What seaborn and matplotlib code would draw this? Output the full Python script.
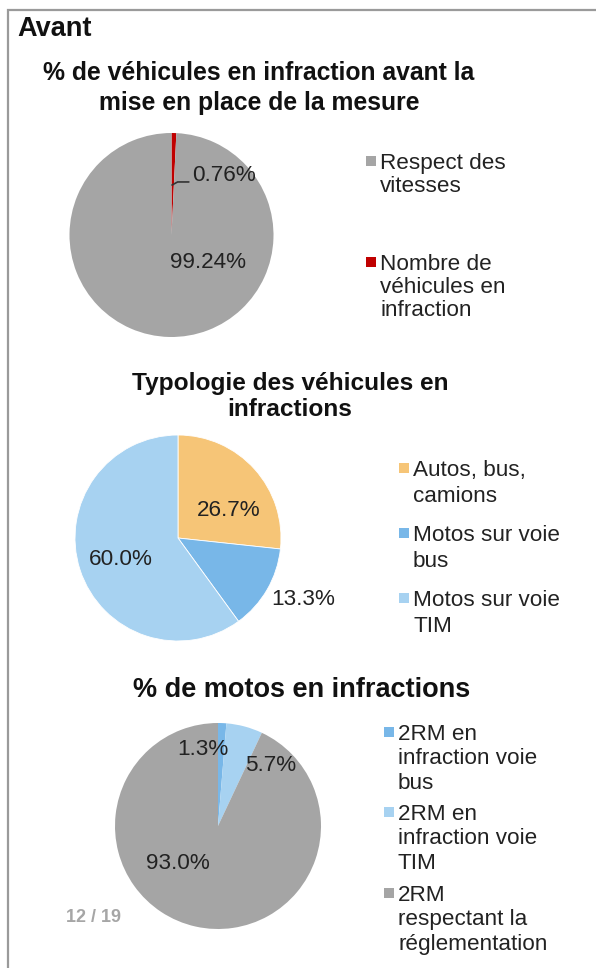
import matplotlib
matplotlib.use("Agg")
import matplotlib.pyplot as plt
from matplotlib.patches import Rectangle
from matplotlib.lines import Line2D
import seaborn as sns

sns.set_theme(style="white")
plt.rcParams['font.family'] = ['Liberation Sans', 'DejaVu Sans']

# ---------------- data ----------------
main_title = "Avant"
page_label = "12 / 19"

title1 = "% de véhicules en infraction avant la\nmise en place de la mesure"
labels1 = ["Nombre de\nvéhicules en\ninfraction", "Respect des\nvitesses"]
values1 = [0.76, 99.24]
pct1 = ["0.76%", "99.24%"]

title2 = "Typologie des véhicules en\ninfractions"
labels2 = ["Autos, bus,\ncamions", "Motos sur voie\nbus", "Motos sur voie\nTIM"]
values2 = [26.7, 13.3, 60.0]
pct2 = ["26.7%", "13.3%", "60.0%"]

title3 = "% de motos en infractions"
labels3 = ["2RM en\ninfraction voie\nbus", "2RM en\ninfraction voie\nTIM",
           "2RM\nrespectant la\nréglementation"]
values3 = [1.3, 5.7, 93.0]
pct3 = ["1.3%", "5.7%", "93.0%"]

GRAY, RED = "#A5A5A5", "#C00000"
ORANGE, BLUE, LBLUE = "#F6C577", "#78B7E8", "#A7D2F1"
colors1 = sns.color_palette([RED, GRAY])
colors2 = sns.color_palette([ORANGE, BLUE, LBLUE])
colors3 = sns.color_palette([BLUE, LBLUE, GRAY])

# ---------------- layout helpers ----------------
W, H = 596, 968
fig = plt.figure(figsize=(W / 100, H / 100), dpi=100)


def fx(x):
    return x / W


def fy(y):
    return 1 - y / H


TXT = "#222222"
FS = 16.2

# border
fig.patches.append(Rectangle((fx(8), fy(990)), fx(640), 980 / H,
                             transform=fig.transFigure, fill=False,
                             edgecolor="#9A9A9A", linewidth=1.6))

fig.text(fx(17), fy(29), main_title, fontsize=19.5, fontweight="bold",
         color="#111111", va="center", ha="left")
fig.text(fx(93), fy(917), page_label, fontsize=13, fontweight="bold",
         color="#A6A6A6", va="center", ha="center")


def pie(cx, cy, r, values, colors, pcts, positions, edge):
    k = 1.35
    ax = fig.add_axes([fx(cx - k * r), fy(cy + k * r), 2 * k * r / W, 2 * k * r / H])
    wedges, _ = ax.pie(values, colors=colors, startangle=90, counterclock=False,
                       radius=1, wedgeprops=dict(edgecolor="white" if edge else "none",
                                                 linewidth=0.6))
    ax.set_xlim(-k, k)
    ax.set_ylim(-k, k)
    ax.set_aspect("equal")
    ax.axis("off")
    for txt, (px, py) in zip(pcts, positions):
        ax.text(px, py, txt, fontsize=FS, color=TXT, ha="center", va="center")
    return ax


def legend(x, labels, colors, tops, lh):
    for lab, col, ty in zip(labels, colors, tops):
        fig.patches.append(Rectangle((fx(x), fy(ty + 5)), 10 / W, 10 / H,
                                     transform=fig.transFigure,
                                     facecolor=col, edgecolor="none"))
        fig.text(fx(x + 14), fy(ty - 8), lab, fontsize=FS, color=TXT,
                 ha="left", va="top", linespacing=lh)


def title(xc, yc, text, fs, lh):
    fig.text(fx(xc), fy(yc), text, fontsize=fs, fontweight="bold",
             color="#111111", ha="center", va="center", linespacing=lh)


# ---- chart 1 ----
title(259, 88, title1, 17.8, 1.31)
ax1 = pie(171.5, 235, 102, values1, colors1, pct1,
          [(0.51, 0.58), (0.36, -0.27)], edge=False)
ax1.add_line(Line2D([0.005, 0.06, 0.17], [0.49, 0.52, 0.52],
                    color="#333333", linewidth=1.2))
legend(366, [labels1[1], labels1[0]], [colors1[1], colors1[0]], [161, 262], 1.14)

# ---- chart 2 ----
title(290, 396.5, title2, 17.6, 1.18)
pie(178, 538, 103, values2, colors2, pct2,
    [(0.49, 0.27), (1.22, -0.60), (-0.56, -0.21)], edge=True)
legend(399, labels2, colors2, [468, 533, 598], 1.29)

# ---- chart 3 ----
title(302, 690, title3, 19.5, 1.0)
pie(218, 826, 103, values3, colors3, pct3,
    [(-0.15, 0.74), (0.51, 0.59), (-0.39, -0.36)], edge=False)
legend(384, labels3, colors3, [732, 812, 893], 1.21)

fig.savefig("out.png", dpi=100)
